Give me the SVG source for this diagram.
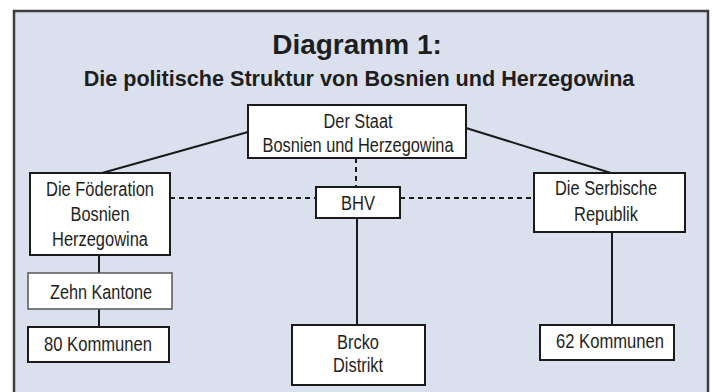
<svg xmlns="http://www.w3.org/2000/svg" width="712" height="392" viewBox="0 0 712 392">
<style>
.panel{fill:#dbe0ee;stroke:#3c3c3c;stroke-width:2.5}
.title{font-family:"Liberation Sans",Arial,sans-serif;font-weight:bold;fill:#1e1e1e;text-anchor:middle}
.box{fill:#ffffff;stroke:#1a1a1a;stroke-width:2}
.box.light{stroke:#555555;stroke-width:1.5}
.lbl{font-family:"Liberation Sans",Arial,sans-serif;font-size:20px;fill:#1e1e1e;text-anchor:middle}
.solid{stroke:#1a1a1a;stroke-width:2;fill:none}
.dash{stroke:#1a1a1a;stroke-width:2;fill:none;stroke-dasharray:5 4}
</style>
<rect class="panel" x="14" y="11" width="694" height="400"/>
<text class="title" x="357" y="54" font-size="28">Diagramm 1:</text>
<text class="title" x="359" y="86" font-size="21.6">Die politische Struktur von Bosnien und Herzegowina</text>
<g id="connectors">
<line class="solid" x1="248" y1="132" x2="102" y2="173"/>
<line class="solid" x1="466" y1="128" x2="611" y2="173"/>
<line class="dash" x1="356" y1="158" x2="356" y2="187"/>
<line class="dash" x1="170" y1="198" x2="316" y2="198"/>
<line class="dash" x1="400" y1="198" x2="534" y2="198"/>
<line class="solid" x1="357" y1="218" x2="357" y2="325"/>
<line class="solid" x1="99" y1="255" x2="99" y2="273"/>
<line class="solid" x1="99" y1="309" x2="99" y2="327"/>
<line class="solid" x1="612" y1="232" x2="612" y2="325"/>
</g>
<g id="staat">
<rect class="box" x="248" y="105" width="218" height="53"/>
<text class="lbl" x="358" y="128" textLength="69" lengthAdjust="spacingAndGlyphs">Der Staat</text>
<text class="lbl" x="358" y="152" textLength="191" lengthAdjust="spacingAndGlyphs">Bosnien und Herzegowina</text>
</g>
<g id="foederation">
<rect class="box" x="30" y="173" width="140" height="82"/>
<text class="lbl" x="100" y="196" textLength="108" lengthAdjust="spacingAndGlyphs">Die Föderation</text>
<text class="lbl" x="100" y="221" textLength="59" lengthAdjust="spacingAndGlyphs">Bosnien</text>
<text class="lbl" x="100" y="246" textLength="96" lengthAdjust="spacingAndGlyphs">Herzegowina</text>
</g>
<g id="bhv">
<rect class="box" x="316" y="187" width="84" height="31"/>
<text class="lbl" x="358" y="210" textLength="34" lengthAdjust="spacingAndGlyphs">BHV</text>
</g>
<g id="serbische">
<rect class="box" x="534" y="173" width="151" height="59"/>
<text class="lbl" x="606" y="195" textLength="102" lengthAdjust="spacingAndGlyphs">Die Serbische</text>
<text class="lbl" x="606" y="221" textLength="64" lengthAdjust="spacingAndGlyphs">Republik</text>
</g>
<g id="kantone">
<rect class="box light" x="28" y="273" width="144" height="36"/>
<text class="lbl" x="101" y="299" textLength="102" lengthAdjust="spacingAndGlyphs">Zehn Kantone</text>
</g>
<g id="kommunen80">
<rect class="box" x="28" y="327" width="141" height="35"/>
<text class="lbl" x="98" y="351" textLength="108" lengthAdjust="spacingAndGlyphs">80 Kommunen</text>
</g>
<g id="brcko">
<rect class="box" x="292" y="325" width="133" height="60"/>
<text class="lbl" x="358" y="349" textLength="42" lengthAdjust="spacingAndGlyphs">Brcko</text>
<text class="lbl" x="358" y="372" textLength="50" lengthAdjust="spacingAndGlyphs">Distrikt</text>
</g>
<g id="kommunen62">
<rect class="box" x="540" y="325" width="134" height="35"/>
<text class="lbl" x="610" y="348" textLength="108" lengthAdjust="spacingAndGlyphs">62 Kommunen</text>
</g>
</svg>
